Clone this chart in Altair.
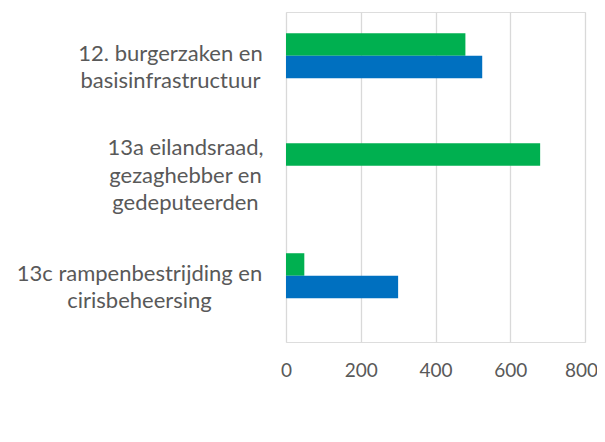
import altair as alt
import pandas as pd

categories = ["12. burgerzaken en basisinfrastructuur",
              "13a eilandsraad, gezaghebber en gedeputeerden",
              "13c rampenbestrijding en cirisbeheersing"]
label_lines = {
    categories[0]: ["12. burgerzaken en", "basisinfrastructuur"],
    categories[1]: ["13a eilandsraad,", "gezaghebber en", "gedeputeerden"],
    categories[2]: ["13c rampenbestrijding en", "cirisbeheersing"],
}
series = ["Serie 1", "Serie 2", "Serie 3"]
serie1 = [480, 680, 49]
serie2 = [525, 0, 300]
x_ticks = [0, 200, 400, 600, 800]
colors = ["#00B050", "#0070C0", "#A5A5A5"]

rows = []
for c, a, b in zip(categories, serie1, serie2):
    rows.append({"cat": c, "serie": series[0], "value": a})
    rows.append({"cat": c, "serie": series[1], "value": b})
df = pd.DataFrame(rows)

label_expr = ("datum.value == '%s' ? %s : datum.value == '%s' ? %s : %s" % (
    categories[0], str(label_lines[categories[0]]),
    categories[1], str(label_lines[categories[1]]),
    str(label_lines[categories[2]])))

pad_expr = ("datum.value == '%s' ? 116 : datum.value == '%s' ? 101 : 147" % (categories[0], categories[1]))
off_expr = ("datum.value == '%s' ? -29 : -13.5" % categories[1])

chart = alt.Chart(df).mark_bar().encode(
    y=alt.Y("cat:N", sort=categories, title=None,
            scale=alt.Scale(paddingInner=0.386, paddingOuter=0.193),
            axis=alt.Axis(domain=False, ticks=False, grid=False,
                          labelExpr=label_expr, labelFont="Lato", labelFontSize=22,
                          labelColor="#595959", labelLineHeight=27.5,
                          labelAlign="center", labelPadding=alt.ExprRef(pad_expr),
                          labelOffset=alt.ExprRef(off_expr),
                          labelLimit=400)),
    yOffset=alt.YOffset("serie:N", sort=series, scale=alt.Scale(domain=series, paddingInner=0, paddingOuter=0)),
    x=alt.X("value:Q", title=None,
            scale=alt.Scale(domain=[0, 800], nice=False),
            axis=alt.Axis(values=x_ticks, domain=False, ticks=False, grid=True,
                          gridColor="#D9D9D9", gridWidth=1.3, labelFlush=False,
                          labelOffset=alt.ExprRef("datum.value == 800 ? -4 : 0"),
                          labelFont="Lato", labelFontSize=19, labelColor="#595959",
                          labelPadding=19)),
    color=alt.Color("serie:N", scale=alt.Scale(domain=series, range=colors), legend=None),
).properties(
    width=299, height=330,
    padding={"left": 278, "top": 4, "right": 12, "bottom": 60},
    autosize="none",
).configure_view(stroke=None).configure(background="white")

chart.save("out.html", embed_options={"renderer": "svg", "actions": False})
